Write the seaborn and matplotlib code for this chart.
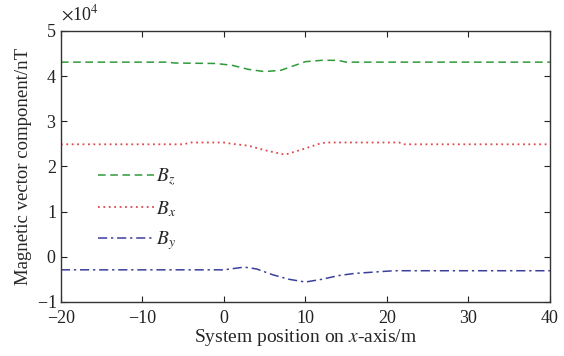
import matplotlib
matplotlib.use("Agg")
import matplotlib.pyplot as plt
import pandas as pd
import seaborn as sns

# values in nT
bz_x = [-20, -7, -6, -1, 1, 3, 5, 7, 10, 12, 14, 15, 40]
bz_y = [43100, 43100, 42900, 42800, 42400, 41500, 41000, 41300, 43200, 43500, 43500, 43100, 43100]

bx_x = [-20, -5, -4, 0, 1, 3, 5, 7.5, 10, 12, 13, 21.5, 22, 40]
bx_y = [24900, 24900, 25300, 25300, 25000, 24600, 23600, 22600, 24000, 25200, 25300, 25300, 24900, 24900]

by_x = [-20, 0, 2.5, 4, 6, 8, 10, 12, 14, 16, 20, 21, 40]
by_y = [-2900, -2900, -2300, -2700, -4000, -5000, -5600, -5000, -4200, -3700, -3200, -3100, -3100]

sns.set_theme(style="ticks")
plt.rcParams["font.family"] = ["Liberation Serif", "DejaVu Serif"]
plt.rcParams["mathtext.fontset"] = "stix"

fig = plt.figure(figsize=(5.64, 3.56), dpi=100)
ax = fig.add_axes([0.108, 0.152, 0.867, 0.761])

sns.lineplot(x=bz_x, y=bz_y, ax=ax, color="#2f9a3c", linestyle=(0, (5, 3)), lw=1.1, label="$B_z$")
sns.lineplot(x=bx_x, y=bx_y, ax=ax, color="#e0474c", linestyle=(0, (1, 2)), lw=1.3, label="$B_x$")
sns.lineplot(x=by_x, y=by_y, ax=ax, color="#3b3f9c", linestyle=(0, (6, 2.5, 1.5, 2.5)), lw=1.1, label="$B_y$")

ax.set_xlim(-20, 40)
ax.set_ylim(-10000, 50000)
ax.set_xticks(range(-20, 41, 10))
ax.set_yticks(range(-10000, 50001, 10000))
ax.ticklabel_format(axis="y", style="sci", scilimits=(4, 4), useMathText=True)
ax.yaxis.get_offset_text().set_visible(False)
ax.text(0.0, 1.025, r"$\times$10$^4$", transform=ax.transAxes, fontsize=13,
        ha="left", va="bottom", color="#222222")

ax.tick_params(direction="in", top=True, right=True, labelsize=13, length=4, width=0.8, colors="#222222")
ax.tick_params(axis="x", pad=6)
ax.tick_params(axis="y", pad=3)
for s in ax.spines.values():
    s.set_linewidth(1.0)
    s.set_color("#333333")

ax.set_xlabel("System position on $x$-axis/m", fontsize=14, labelpad=0)
ax.set_ylabel("Magnetic vector component/nT", fontsize=13.5, labelpad=3)

ax.legend(loc="upper left", bbox_to_anchor=(0.055, 0.535), frameon=False, fontsize=14,
          handlelength=2.9, handletextpad=0.1, labelspacing=0.55, borderpad=0)

fig.savefig("out.png", dpi=100)
